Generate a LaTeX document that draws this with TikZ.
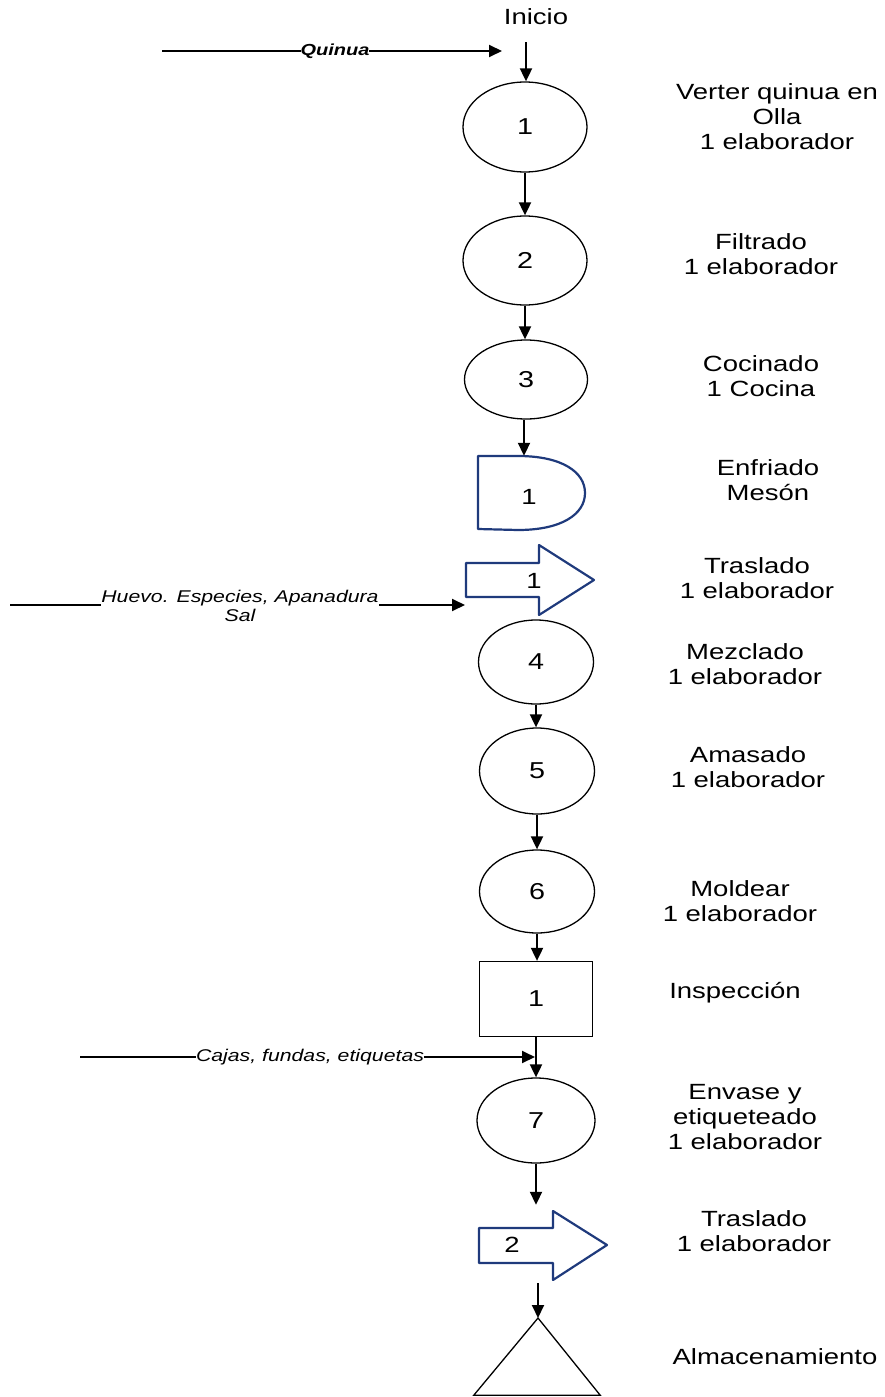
\documentclass[tikz,border=0pt]{standalone}
\usepackage{fontspec}
\setmainfont{Liberation Sans}[FakeStretch=1.25]
\usetikzlibrary{shapes.geometric,arrows.meta}
\definecolor{navy}{HTML}{1F3A7C}
\begin{document}
\begin{tikzpicture}[x=1pt,y=-1pt,
  every node/.style={font=\fontsize{22}{25}\selectfont, inner sep=1pt},
  proc/.style={draw, line width=1.3pt, ellipse, minimum width=#1, minimum height=86pt, inner sep=0pt, font=\fontsize{23}{25}\selectfont},
  ph/.style={rectangle, inner sep=0pt, minimum width=#1},
  flow/.style={line width=1.9pt, -{Triangle[length=13pt,width=12pt]}},
  navyline/.style={draw=navy, line width=2.2pt, line join=round, fill=white},
  side/.style={align=center},
  feed/.style={font=\fontsize{17}{19}\selectfont\itshape, fill=white, align=center, inner sep=0pt},
]
\path[use as bounding box] (0,0) rectangle (885,1397);

% start label
\node (inicio) at (536,17) {Inicio};

% operations (ellipses)
\node[proc=124pt, minimum height=90pt] (e1) at (525,127) {1};
\node[proc=124pt, minimum height=89pt] (e2) at (525,260.5) {2};
\node[proc=123pt, minimum height=79pt] (e3) at (526,379.5) {3};
\node[proc=115pt, minimum height=84pt] (e4) at (536,662) {4};
\node[proc=115pt, minimum height=86pt] (e5) at (537,771) {5};
\node[proc=115pt, minimum height=83pt] (e6) at (537,891.5) {6};
\node[proc=118pt, minimum height=85pt] (e7) at (536,1120.5) {7};

% delay (D shape)
\node[ph=107pt, minimum height=74pt] (d1) at (531.5,493) {};
\path[navyline] (478,456) -- (518,456) .. controls (562,456) and (585,472) .. (585,493)
  .. controls (585,514) and (562,530) .. (518,530) -- (478,529) -- cycle;
\node (d1t) at (529,497) {1};

% transport 1 (block arrow)
\node[ph=128pt, minimum height=70pt] (ta1) at (530,580) {};
\path[navyline] (466,563) -- (539,563) -- (539,545) -- (594,580) -- (539,615) -- (539,597) -- (466,597) -- cycle;
\node (ta1t) at (534,581) {1};

% inspection
\node[draw, line width=1.3pt, minimum width=113pt, minimum height=75pt, inner sep=0pt, font=\fontsize{23}{25}\selectfont] (insp) at (536,999) {1};

% transport 2 (block arrow)
\node[ph=128pt, minimum height=69pt] (ta2) at (543,1245.5) {};
\path[navyline] (479,1228) -- (553,1228) -- (553,1211) -- (607,1245) -- (553,1280) -- (553,1263) -- (479,1263) -- cycle;
\node (ta2t) at (512,1245) {2};

% storage
\node[ph=126pt, minimum height=77pt] (tri) at (537,1356.5) {};
\draw[line width=1.3pt, line join=miter] (538,1318) -- (tri.south east) -- (tri.south west) -- cycle;
\coordinate (apex) at (538,1318);

% main flow
\draw[flow] (inicio.south) ++(-10,16) coordinate (i0) -- (i0 |- e1.north);
\draw[flow] (e1.south) -- (e2.north);
\draw[flow] (e2.south) -- (e2.south |- e3.north);
\draw[flow] (e3.south) ++(-2,0) coordinate (e3b) -- (e3b |- d1.north);
\draw[flow] (e4.south) -- (e4.south |- e5.north);
\draw[flow] (e5.south) -- (e5.south |- e6.north);
\draw[flow] (e6.south) -- (e6.south |- insp.north);
\draw[flow] (insp.south) -- (insp.south |- e7.north);
\draw[flow, shorten >=6pt] (e7.south) -- (e7.south |- ta2.north);
\draw[flow, shorten <=3pt] (apex |- ta2.south) -- (apex);

% material inputs
\coordinate (q0) at (162,51);
\coordinate (q1) at (502,51);
\draw[flow] (q0) -- (q1);
\node[feed, font=\fontsize{16}{18}\selectfont\bfseries\itshape] (qlab) at (335,51) {Quinua};

\coordinate (h0) at (10,605);
\coordinate (h1) at (465,605);
\draw[flow] (h0) -- (h1);
\node[feed] (hlab) at (240,606) {Huevo. Especies, Apanadura\\Sal};

\coordinate (c0) at (80,1057);
\coordinate (c1) at (535,1057);
\draw[flow] (c0) -- (c1);
\node[feed] (clab) at (310,1057) {Cajas, fundas, etiquetas};

% descriptions
\node[side] (t1) at (777,117) {Verter quinua en\\Olla\\1 elaborador};
\node[side] (t2) at (761,254) {Filtrado\\1 elaborador};
\node[side] (t3) at (761,376) {Cocinado\\1 Cocina};
\node[side] (t4) at (768,480) {Enfriado\\Mesón};
\node[side] (t5) at (757,578) {Traslado\\1 elaborador};
\node[side] (t6) at (745,664) {Mezclado\\1 elaborador};
\node[side] (t7) at (748,767) {Amasado\\1 elaborador};
\node[side] (t8) at (740,901) {Moldear\\1 elaborador};
\node[side] (t9) at (735,993) {Inspección};
\node[side] (t10) at (745,1117) {Envase y\\etiqueteado\\1 elaborador};
\node[side] (t11) at (754,1231) {Traslado\\1 elaborador};
\node[side] (t12) at (775,1357) {Almacenamiento};
\end{tikzpicture}
\end{document}
